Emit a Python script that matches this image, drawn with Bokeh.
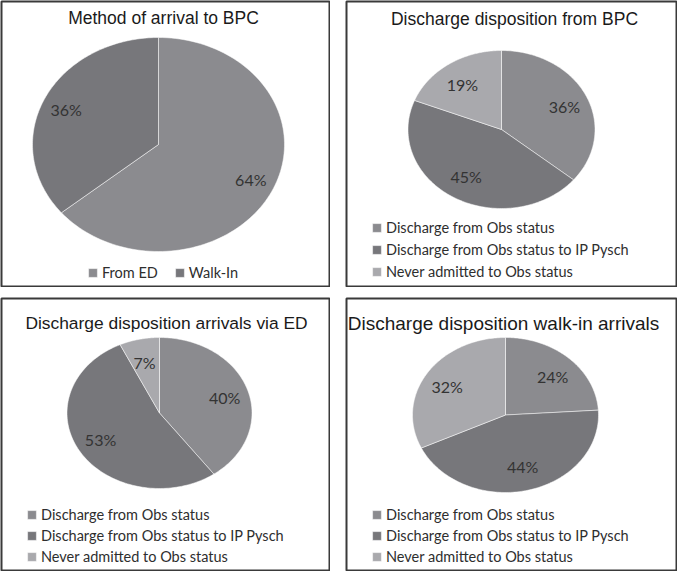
import numpy as np
from bokeh.plotting import figure
from bokeh.models import Range1d, Label, Legend, LegendItem, ColumnDataSource
from bokeh.layouts import column, row
from bokeh.embed import file_html
from bokeh.resources import INLINE
from bokeh.core.properties import value

# ---------------- data ----------------
arrival_title = "Method of arrival to BPC"
arrival_labels = ["From ED", "Walk-In"]
arrival_values = [64, 36]

disp_labels = ["Discharge from Obs status",
               "Discharge from Obs status to IP Pysch",
               "Never admitted to Obs status"]
bpc_title = "Discharge disposition from BPC"
bpc_values = [36, 45, 19]
ed_title = "Discharge disposition arrivals via ED"
ed_values = [40, 53, 7]
walkin_title = "Discharge disposition walk-in arrivals"
walkin_values = [24, 44, 32]

# ---------------- styles ----------------
SLICE_COLORS = ["#8b8b8f", "#77777b", "#a9a9ad"]
BORDER = "#3a3a3a"
TEXT = "#333333"
LABEL_INSET = 24  # px from the pie edge to the percentage label centre


def pie_panel(title, labels, values, W, H, cx, cy, rx, ry,
              tx, ty, tsize, lx, ly, orient, lspacing):
    FW, FH = W - 2, H - 2
    fcx, fcy = cx - 1, cy - 1
    p = figure(width=W, height=H, output_backend="svg", toolbar_location=None,
               x_axis_type=None, y_axis_type=None,
               x_range=Range1d(-fcx / rx, (FW - fcx) / rx),
               y_range=Range1d(-(FH - fcy) / ry, fcy / ry),
               min_border_left=1, min_border_right=1,
               min_border_top=1, min_border_bottom=1)
    p.grid.visible = False
    p.outline_line_color = BORDER
    p.outline_line_width = 2
    p.background_fill_color = "white"
    p.border_fill_color = "white"

    total = float(sum(values))
    fr = np.cumsum([0] + list(values)) / total
    xs, ys, lxs, lys, txt = [], [], [], [], []
    for i, v in enumerate(values):
        a0, a1 = 2 * np.pi * fr[i], 2 * np.pi * fr[i + 1]
        t = np.linspace(a0, a1, 120)
        xs.append([0.0] + list(np.sin(t)))
        ys.append([0.0] + list(np.cos(t)))
        am = 0.5 * (a0 + a1)
        lxs.append((1 - LABEL_INSET / rx) * np.sin(am))
        lys.append((1 - LABEL_INSET / ry) * np.cos(am))
        txt.append(f"{v}%")
    src = ColumnDataSource(dict(xs=xs, ys=ys, color=SLICE_COLORS[:len(values)]))
    r = p.patches("xs", "ys", source=src, fill_color="color",
                  line_color="white", line_width=1, line_alpha=0.5)
    p.text(x=lxs, y=lys, text=txt, text_align="center", text_baseline="middle",
           text_font=value("Lato"), text_font_size="16px", text_color=TEXT)

    p.add_layout(Label(x=tx - 1, y=FH - (ty - 1), x_units="screen", y_units="screen",
                       text=title, text_align="center", text_baseline="middle",
                       text_font="Liberation Sans", text_font_size=tsize,
                       text_color="#1a1a1a"))

    items = [LegendItem(label=lab, renderers=[r], index=i) for i, lab in enumerate(labels)]
    leg = Legend(items=items, location=(lx, ly), orientation=orient,
                 glyph_width=11, glyph_height=11, label_standoff=4,
                 label_height=20, spacing=lspacing, padding=0, margin=0,
                 border_line_color=None, background_fill_alpha=0,
                 label_text_font="Lato", label_text_font_size="14.5px",
                 label_text_color="#2e2e2e")
    p.add_layout(leg)
    return p


p1 = pie_panel(arrival_title, arrival_labels, arrival_values, 330, 287,
               158, 144, 126, 107, 163, 17, "17.5px", 86, 4, "horizontal", 16)
p2 = pie_panel(bpc_title, disp_labels, bpc_values, 332, 287,
               156, 129, 93.5, 79, 169, 18, "17.5px", 25, 5, "vertical", 2)
p3 = pie_panel(ed_title, disp_labels, ed_values, 330, 274,
               159, 115.5, 92.5, 75.5, 166, 25, "17.4px", 25, 4, "vertical", 1)
p4 = pie_panel(walkin_title, disp_labels, walkin_values, 332, 274,
               160, 117.5, 93, 77.5, 158, 26, "19px", 25, 4, "vertical", 1)

layout = column(row(p1, p2, spacing=15), row(p3, p4, spacing=15),
                spacing=10)

open("out.html", "w").write(file_html(layout, INLINE))
